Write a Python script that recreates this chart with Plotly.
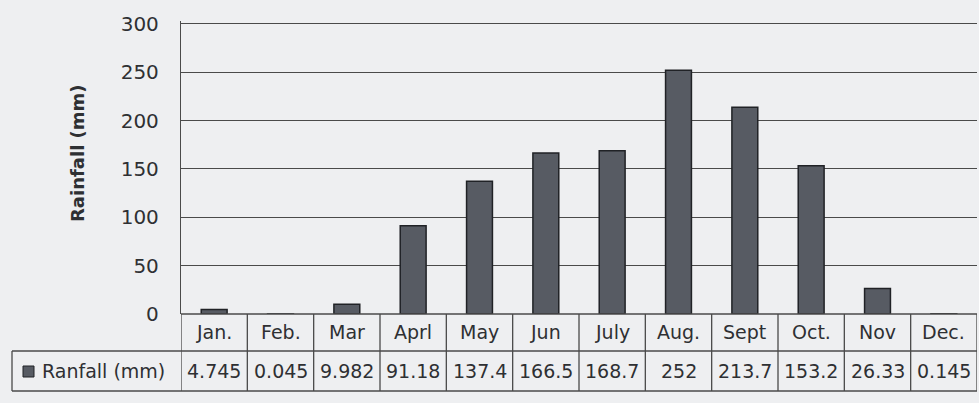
import plotly.graph_objects as go

months = ["Jan.", "Feb.", "Mar", "Aprl", "May", "Jun", "July", "Aug.", "Sept", "Oct.", "Nov", "Dec."]
rainfall = [4.745, 0.045, 9.982, 91.18, 137.4, 166.5, 168.7, 252, 213.7, 153.2, 26.33, 0.145]
series_name = "Ranfall (mm)"
y_ticks = [0, 50, 100, 150, 200, 250, 300]

BAR = "#575b63"
EDGE = "#202226"
LINE = "#4a4a4a"
TXT = "#2e3033"
FONT = "DejaVu Sans"
BG = "#eeeff1"

fig = go.Figure(go.Bar(
    x=list(range(len(months))), y=rainfall,
    marker=dict(color=BAR, line=dict(color=EDGE, width=1.5)),
    width=0.39, showlegend=False, hoverinfo="skip",
))

W, H = 979, 403
L, R, T, B = 181, 2, 21, 89
ph = H - T - B
pw = W - L - R

def py(pix):  # pixel row -> paper y
    return (H - B - pix) / ph

def px(pix):  # pixel col -> paper x
    return (pix - L) / pw

row1_bot = py(351)
row2_bot = py(391)

shapes = []
n = len(months)
for i in range(n + 1):
    shapes.append(dict(type="line", xref="x", yref="paper", x0=i - 0.5, x1=i - 0.5,
                       y0=0, y1=row2_bot, line=dict(color=LINE, width=1.3)))
shapes.append(dict(type="line", xref="x", yref="paper", x0=-0.5, x1=n - 0.5, y0=0, y1=0,
                   line=dict(color=LINE, width=1.3)))
shapes.append(dict(type="line", xref="paper", yref="paper", x0=px(12), x1=1, y0=row1_bot, y1=row1_bot,
                   line=dict(color=LINE, width=1.3)))
shapes.append(dict(type="line", xref="paper", yref="paper", x0=px(12), x1=1, y0=row2_bot, y1=row2_bot,
                   line=dict(color=LINE, width=1.3)))
shapes.append(dict(type="line", xref="paper", yref="paper", x0=px(12), x1=px(12), y0=row1_bot, y1=row2_bot,
                   line=dict(color=LINE, width=1.3)))
shapes.append(dict(type="rect", xref="paper", yref="paper", x0=px(23), x1=px(34),
                   y0=py(377), y1=py(366), fillcolor=BAR, line=dict(color=EDGE, width=1)))

annotations = []
for i, (m, v) in enumerate(zip(months, rainfall)):
    annotations.append(dict(x=i, y=py(332), xref="x", yref="paper", text=m, showarrow=False,
                            xanchor="center", yanchor="middle",
                            font=dict(family=FONT, size=19, color=TXT)))
    annotations.append(dict(x=i, y=py(371), xref="x", yref="paper", text=str(v), showarrow=False,
                            xanchor="center", yanchor="middle",
                            font=dict(family=FONT, size=19, color=TXT)))
annotations.append(dict(x=px(40), y=py(371), xref="paper", yref="paper", text=series_name,
                        showarrow=False, xanchor="left", yanchor="middle",
                        font=dict(family=FONT, size=19, color=TXT)))
annotations.append(dict(x=px(77), y=py(153), xref="paper", yref="paper", text="<b>Rainfall (mm)</b>",
                        showarrow=False, textangle=-90, xanchor="center", yanchor="middle",
                        font=dict(family=FONT, size=18, color=TXT)))

fig.update_layout(
    width=W, height=H,
    margin=dict(l=L, r=R, t=T, b=B),
    paper_bgcolor=BG, plot_bgcolor=BG,
    shapes=shapes, annotations=annotations,
    xaxis=dict(range=[-0.5, n - 0.5], showticklabels=False, showgrid=False, zeroline=False,
               ticks="", showline=False),
    yaxis=dict(range=[0, 303], tickvals=y_ticks, showgrid=True, gridcolor=LINE, gridwidth=1.3,
               zeroline=False, showline=True, linecolor=LINE, linewidth=1.3, ticks="",
               ticklabelstandoff=17,
               tickfont=dict(family=FONT, size=20, color=TXT)),
)

fig.write_html("out.html", config={"displayModeBar": False},
               post_script="document.body.style.margin='0';")
